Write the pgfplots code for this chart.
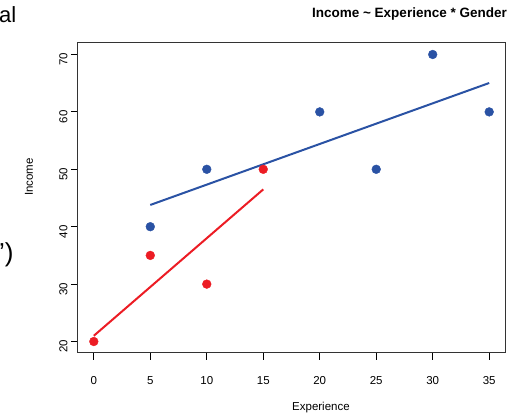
\documentclass[border=0pt]{standalone}
\usepackage{pgfplots}
\pgfplotsset{compat=1.18}
\usepackage{fontspec}
\setmainfont{Liberation Sans}
\definecolor{maleblue}{RGB}{42,82,164}
\definecolor{femred}{RGB}{236,28,36}
\begin{document}
\begin{tikzpicture}
\useasboundingbox (0pt,0pt) rectangle (519pt,417pt);
% fragments of the surrounding slide text
\node[anchor=base west, inner sep=0, font=\fontsize{22}{24}\selectfont] at (-1pt,394pt) {al};
\node[anchor=base west, inner sep=0, font=\fontsize{26}{28}\selectfont] at (-1pt,155pt) {’)};
% title
\node[anchor=base east, inner sep=0, font=\fontsize{13.5}{15}\selectfont\bfseries] at (507pt,399pt) {Income \textasciitilde{} Experience * Gender};
\begin{axis}[
  at={(78pt,64pt)}, anchor=south west,
  width=427pt, height=310pt, scale only axis,
  xmin=-1.4, xmax=36.4, ymin=18, ymax=72,
  xtick={0,5,...,35}, ytick={20,30,...,70},
  xtick pos=bottom, ytick pos=left, tick align=outside,
  major tick length=7pt,
  every tick/.style={black, line width=0.8pt},
  axis line style={black!80, line width=1pt},
  /pgf/number format/assume math mode=true,
  ticklabel style={font=\fontsize{11.5}{13}\selectfont},
  xticklabel style={yshift=-13pt},
  yticklabel style={rotate=90, anchor=south, xshift=-5pt},
  xlabel={Experience}, ylabel={Income},
  label style={font=\fontsize{11.5}{13}\selectfont},
  xlabel style={at={(axis description cs:0.569,-0.1774)}, anchor=center},
  ylabel style={at={(axis description cs:-0.1148,0.568)}, anchor=center},
  clip=false,
]
% observations
\addplot[only marks, mark=*, mark size=4.4pt, maleblue, mark options={draw=maleblue, fill=maleblue}]
  coordinates {(5,40) (10,50) (20,60) (25,50) (30,70) (35,60)};
\addplot[only marks, mark=*, mark size=4.4pt, femred, mark options={draw=femred, fill=femred}]
  coordinates {(0,20) (5,35) (10,30) (15,50)};
% fitted lines per group
\addplot[maleblue, line width=2pt] coordinates {(5,43.789) (35,65.031)};
\addplot[femred, line width=2pt] coordinates {(0,21) (15,46.5)};
\end{axis}
\end{tikzpicture}
\end{document}
